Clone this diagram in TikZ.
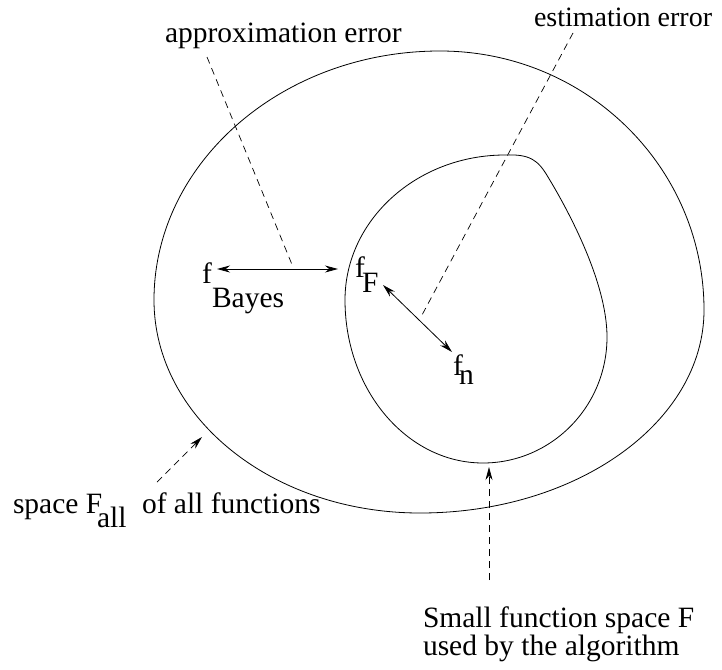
\documentclass[tikz,border=0pt]{standalone}
\usepackage{fontspec}
\setmainfont{Liberation Serif}
\usetikzlibrary{arrows.meta}
\tikzset{
  lbl/.style={inner sep=0pt, outer sep=0pt, anchor=base west, font=\fontsize{29.5}{35}\selectfont},
  curve/.style={line width=0.8pt},
  dim/.style={line width=0.8pt, {Stealth[length=13pt,width=7pt]}-{Stealth[length=13pt,width=7pt]}},
  hint/.style={line width=0.7pt, dash pattern=on 7pt off 5pt},
  hintarrow/.style={line width=0.7pt, dash pattern=on 7pt off 5pt, -{Stealth[length=13pt,width=7pt]}}
}
\begin{document}
\begin{tikzpicture}[x=1pt,y=-1pt]
\useasboundingbox (0,0) rectangle (722,669);
% outer space
\draw[curve] (440,51) .. controls (586,51) and (704,167) .. (704,310)
  .. controls (704,422) and (577,513) .. (420,513)
  .. controls (273,513) and (154,418) .. (154,300)
  .. controls (154,163) and (282,51) .. (440,51) -- cycle;
% inner space
\draw[curve] (505,155) .. controls (530,154) and (538,160) .. (548,177)
  .. controls (565,205) and (607,280) .. (607,337)
  .. controls (607,407) and (551,463) .. (483,463)
  .. controls (407,463) and (345,390) .. (345,300)
  .. controls (345,220) and (417,155) .. (505,155) -- cycle;
% labels
\node[lbl] (approx) at (165,42) {approximation error};
\node[lbl, font=\fontsize{28}{33}\selectfont] (estim) at (534,27) {estimation error};
\node[lbl] (fb) at (202,283) {f};
\node[lbl] (fbsub) at (212,307) {Bayes};
\node[lbl] (ff) at (355,277) {f};
\node[lbl] (ffsub) at (362,292) {F};
\node[lbl] (fn) at (453,375) {f};
\node[lbl] (fnsub) at (459,384) {n};
\node[lbl] (spaceF) at (13,513) {space F};
\node[lbl] (allsub) at (97,527) {all};
\node[lbl] (ofall) at (142,513) {of all functions};
\node[lbl] (small1) at (423,627) {Small function space F};
\node[lbl] (small2) at (423,655) {used by the algorithm};
% coordinates
\coordinate (bL) at (217,269);
\coordinate (bR) at (338,269);
\coordinate (fA) at (383,285);
\coordinate (fB) at (452,352);
\coordinate (apS) at (207,57);
\coordinate (apE) at (293,267);
\coordinate (esS) at (573,33);
\coordinate (esE) at (422,315);
\coordinate (allS) at (157,482);
\coordinate (allT) at (202,437);
\coordinate (smS) at (489,580);
\coordinate (smT) at (489,467);
% connectors
\draw[dim] (bL) -- (bR);
\draw[dim] (fA) -- (fB);
\draw[hint] (apS) -- (apE);
\draw[hint] (esS) -- (esE);
\draw[hintarrow] (allS) -- (allT);
\draw[hintarrow] (smS) -- (smT);
\end{tikzpicture}
\end{document}
